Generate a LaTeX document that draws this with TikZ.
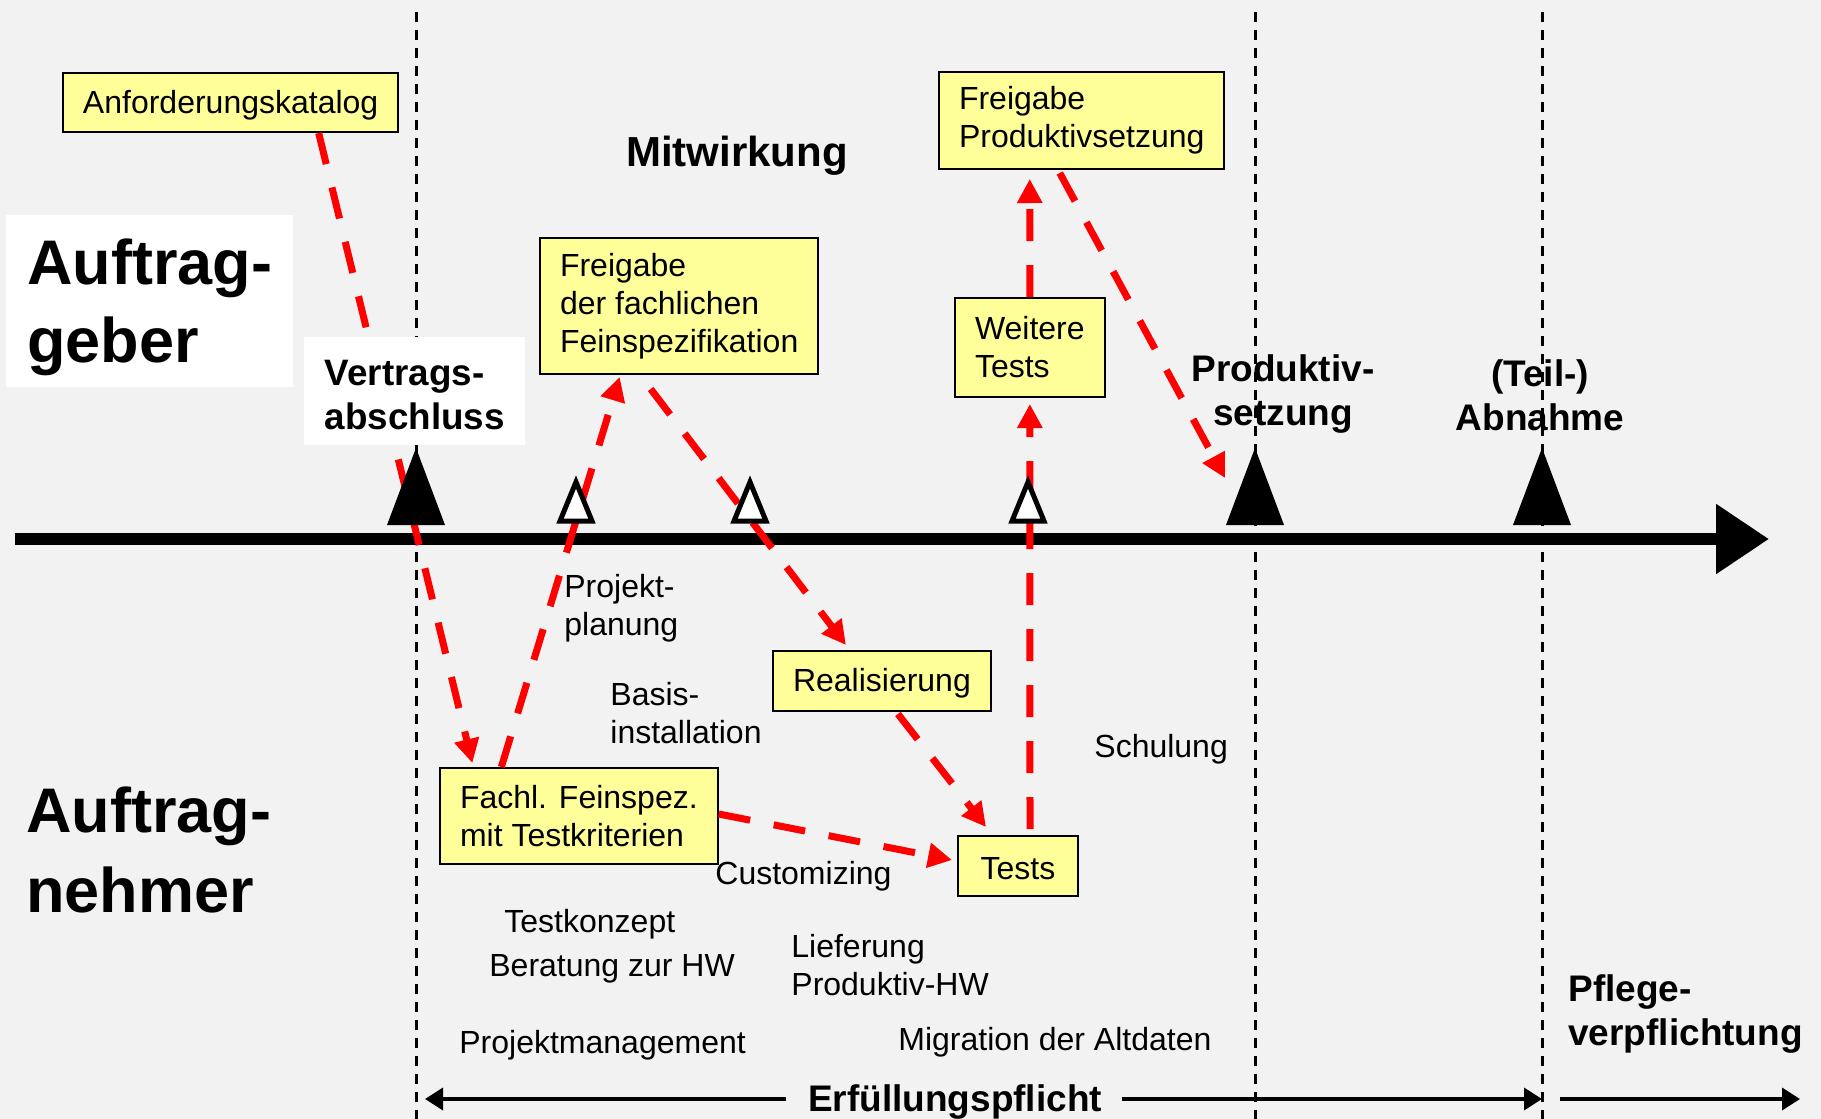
\documentclass[tikz,border=0pt]{standalone}
\usepackage{fontspec}
\setmainfont{Liberation Sans}
\usetikzlibrary{arrows.meta}
\definecolor{hgrau}{HTML}{F2F2F2}
\definecolor{gelbfill}{HTML}{FFFF99}

\begin{document}
\begin{tikzpicture}[x=0.5pt, y=-0.5pt,
	gelb/.style={draw=black, line width=1pt, fill=gelbfill, anchor=north west, align=left, inner xsep=10pt, inner ysep=2pt, font=\fontsize{16}{19}\selectfont, execute at begin node={\rule{0pt}{14pt}}},
	weiss/.style={fill=white, anchor=north west, align=left, inner xsep=10pt, inner ysep=2pt, font=\bfseries\fontsize{18.4}{22}\selectfont},
	txt/.style={anchor=west, align=left, inner sep=0pt, font=\fontsize{16}{19}\selectfont},
	fett/.style={align=center, inner sep=0pt, font=\bfseries\fontsize{18.5}{22}\selectfont},
	rotpfeil/.style={red, line width=3.5pt, dash pattern=on 16pt off 12pt, -{Triangle[length=12pt, width=12pt]}},
	trenner/.style={black, line width=1.5pt, dash pattern=on 5pt off 4pt},
	pfeil/.style={black, line width=1.8pt, -{Triangle[length=9pt, width=11pt]}}]

	\useasboundingbox (0,0) rectangle (1821,1119);
	\fill[hgrau] (0,0) rectangle (1821,1119);

	% Trennlinien
	\foreach \x in {416, 1255, 1542}
		\draw[trenner] (\x,12) -- (\x,1119);

	% Zeitachse
	\draw[black, line width=6pt, -{Triangle[length=26.5pt, width=33.5pt]}] (15,539) -- (1769,539);
	\coordinate (prod) at (1255,448);

	% Kaestchen
	\node[gelb, minimum height=29.5pt] (anf) at (62,72) {Anforderungskatalog};
	\node[gelb, minimum height=68pt] (frf) at (539,237) {Freigabe\\der fachlichen\\Feinspezifikation};
	\node[gelb, minimum height=48.5pt] (frp) at (938,71) {Freigabe\\Produktivsetzung};
	\node[gelb, minimum height=49.5pt] (wtt) at (954,297) {Weitere\\Tests};
	\node[gelb, minimum height=30pt] (real) at (772,650) {Realisierung};
	\node[gelb, minimum height=48pt] (fach) at (439,767) {Fachl. Feinspez.\\mit Testkriterien};
	\node[gelb, minimum height=30pt, minimum width=60pt] (tests) at (957,835) {Tests};

	% rote Pfeile
	\draw[rotpfeil] ([xshift=44pt]anf.south) -- ([xshift=-53.25pt, yshift=2pt]fach.north);
	\draw[rotpfeil] ([xshift=-38.75pt]fach.north) -- ([xshift=-29.75pt, yshift=-1pt]frf.south);
	\draw[rotpfeil] ([xshift=-14.25pt, yshift=-7pt]frf.south) -- ([xshift=-18pt, yshift=2.5pt]real.north);
	\draw[rotpfeil] ([xshift=8pt, yshift=-1pt]real.south) -- ([xshift=-16pt, yshift=4pt]tests.north);
	\draw[rotpfeil] ([yshift=1pt]fach.east) -- ([xshift=-2.5pt, yshift=3pt]tests.west);
	\draw[rotpfeil] ([xshift=6pt, yshift=3pt]tests.north) -- ([yshift=-3pt]wtt.south);
	\draw[rotpfeil] (wtt.north) -- ([xshift=-26pt, yshift=-4.5pt]frp.south);
	\draw[rotpfeil] ([xshift=-11pt, yshift=-1.5pt]frp.south) -- ([xshift=-15pt, yshift=-15pt]prod);

	% weisse Felder
	\node[weiss, minimum width=143.5pt, minimum height=86pt, font=\bfseries\fontsize{31.5}{39}\selectfont] (agb) at (6,215) {\rule{0pt}{29pt}Auftrag-\\geber};
	\node[weiss, minimum width=110.5pt, minimum height=54pt] (vab) at (304,337) {\rule{0pt}{16pt}Vertrags-\\abschluss};

	% Meilensteine
	\foreach \x in {416, 1255, 1542}
		\fill[black] (\x,448) -- (\x+29,525) -- (\x-29,525) -- cycle;
	\foreach \x in {576, 750, 1028}
		\draw[black, line width=2.5pt, fill=white] (\x,482) -- (\x+16,521) -- (\x-16,521) -- cycle;

	% Beschriftungen
	\node[fett, font=\bfseries\fontsize{21}{25}\selectfont] (mit) at (737,156) {Mitwirkung};
	\node[fett] (pse) at (1283,394) {Produktiv-\\setzung};
	\node[fett] (abn) at (1540,395) {(Teil-)\\Abnahme};
	\node[fett, anchor=west, align=left, font=\bfseries\fontsize{31.5}{40}\selectfont] (anh) at (26,850) {Auftrag-\\nehmer};
	\node[fett, anchor=west, align=left] (pfl) at (1568,1014) {Pflege-\\verpflichtung};

	\node[txt] (ppl) at (564,608) {Projekt-\\planung};
	\node[txt] (bas) at (610,713) {Basis-\\installation};
	\node[txt] (sch) at (1094,749) {Schulung};
	\node[txt] (cus) at (715,876) {Customizing};
	\node[txt] (tko) at (504,924) {Testkonzept};
	\node[txt] (ber) at (489,969) {Beratung zur HW};
	\node[txt] (lie) at (791,965) {Lieferung\\Produktiv-HW};
	\node[txt] (pma) at (459,1045) {Projektmanagement};
	\node[txt] (mig) at (898,1042) {Migration der Altdaten};

	% Pflichten
	\node[fett] (erf) at (955,1102) {Erfüllungspflicht};
	\coordinate (erfa) at (425,1099);
	\coordinate (erfe) at (1542,1099);
	\coordinate (pfa) at (1560,1099);
	\coordinate (pfe) at (1800,1099);
	\draw[pfeil] ([xshift=-11pt, yshift=1.5pt]erf.west) -- (erfa);
	\draw[pfeil] ([xshift=10pt, yshift=1.5pt]erf.east) -- (erfe);
	\draw[pfeil] (pfa) -- (pfe);
\end{tikzpicture}
\end{document}
